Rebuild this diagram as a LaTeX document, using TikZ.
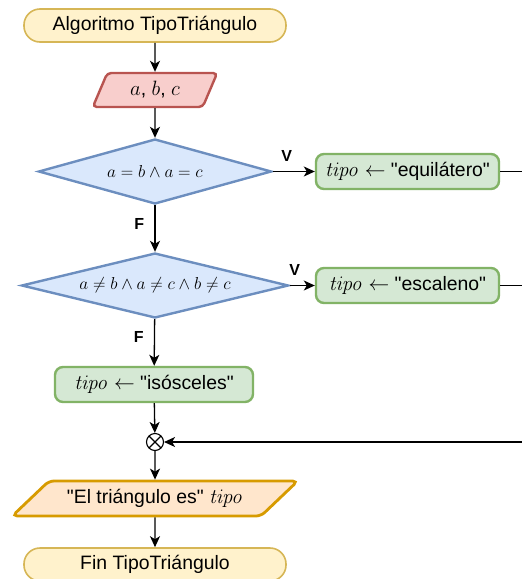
\documentclass[tikz,border=0pt]{standalone}
\usepackage[no-math]{fontspec}
\setmainfont{Liberation Sans}[Ligatures=TeXOff]
\usepackage{amsmath,amssymb}
\usetikzlibrary{arrows.meta,shapes.geometric,positioning}
\definecolor{termFill}{HTML}{FFF2CC}
\definecolor{termLine}{HTML}{D6B656}
\definecolor{inFill}{HTML}{F8CECC}
\definecolor{inLine}{HTML}{B85450}
\definecolor{decFill}{HTML}{DAE8FC}
\definecolor{decLine}{HTML}{6C8EBF}
\definecolor{procFill}{HTML}{D5E8D4}
\definecolor{procLine}{HTML}{82B366}
\definecolor{outFill}{HTML}{FFE6CC}
\definecolor{outLine}{HTML}{D79B00}

\begin{document}
\begin{tikzpicture}[x=1pt,y=-1pt,
    font=\fontsize{19.4}{22}\selectfont,
    term/.style={draw=termLine, fill=termFill, line width=1.6pt, rounded corners=16pt,
      minimum width=262pt, minimum height=33pt, inner sep=0pt},
    inbox/.style={trapezium, trapezium stretches=true, trapezium left angle=66,
      trapezium right angle=114, draw=inLine, fill=inFill, line width=2.4pt,
      rounded corners=4pt, minimum width=125pt, minimum height=34pt, inner sep=0pt},
    outbox/.style={trapezium, trapezium stretches=true, trapezium left angle=31,
      trapezium right angle=149, draw=outLine, fill=outFill, line width=2.8pt,
      rounded corners=5pt, minimum width=286pt, minimum height=35pt, inner sep=0pt},
    decision/.style={diamond, aspect=3.6, draw=decLine, fill=decFill, line width=2.4pt,
      inner sep=0pt, font=\fontsize{17.5}{20}\selectfont},
    procbox/.style={draw=procLine, fill=procFill, line width=2.4pt, rounded corners=8pt,
      minimum width=183pt, minimum height=35pt, inner sep=0pt},
    merge/.style={circle, draw, fill=white, line width=1.1pt, minimum size=17pt, inner sep=0pt,
      path picture={\draw[line width=1.1pt]
        (path picture bounding box.south west) -- (path picture bounding box.north east)
        (path picture bounding box.north west) -- (path picture bounding box.south east);}},
    flow/.style={line width=1.3pt, -{Stealth[length=11pt,width=10pt,inset=3pt]}},
    tag/.style={font=\fontsize{16}{18}\selectfont\bfseries}]
  \useasboundingbox (0,0) rectangle (522,579);
  % Start and input
  \node[term] (start) at (155,25.5) {Algoritmo TipoTriángulo};
  \node[inbox] (read) at (155,90) {$a$, $b$, $c$};
  % Decisions
  \node[decision, minimum width=233pt, minimum height=65pt] (d1) at (155,171.5)
    {$a = b \wedge a = c$};
  \node[decision, minimum width=267pt, minimum height=65pt] (d2) at (155,285.5)
    {$a \neq b \wedge a \neq c \wedge b \neq c$};
  % Assignments
  \node[procbox] (equi) at (407.5,171.5) {$\mathit{tipo} \leftarrow$ "equilátero"};
  \node[procbox] (esca) at (407.5,285.5) {$\mathit{tipo} \leftarrow$ "escaleno"};
  \node[procbox, minimum width=198pt] (isos) at (154,384.5) {$\mathit{tipo} \leftarrow$ "isósceles"};
  % Merge, output and end
  \node[merge] (join) at (155,442) {};
  \node[outbox] (write) at (155,498.5) {"El triángulo es" $\mathit{tipo}$};
  \node[term] (stop) at (155,564.5) {Fin TipoTriángulo};
  % Free ends at the right border
  \coordinate (r1) at (522,171.5);
  \coordinate (r2) at (522,285.5);
  \coordinate (r3) at (522,442);
  % Connectors
  \draw[flow] (start) -- (read);
  \draw[flow] (read) -- (d1);
  \draw[flow] (d1) -- node[tag, pos=0.33, above=6pt] {V} (equi);
  \draw[flow] (d1) -- node[tag, pos=0.41, left=6.8pt] {F} (d2);
  \draw[flow] (d2) -- node[tag, pos=0.2, above=6pt] {V} (esca);
  \draw[flow] (d2) -- node[tag, pos=0.39, left=6.8pt] {F} (isos);
  \draw[line width=1.3pt] (equi) -- (r1);
  \draw[line width=1.3pt] (esca) -- (r2);
  \draw[flow] (isos) -- (join);
  \draw[flow] (r3) -- (join);
  \draw[flow] (join) -- (write);
  \draw[flow] (write) -- (stop);
\end{tikzpicture}
\end{document}
